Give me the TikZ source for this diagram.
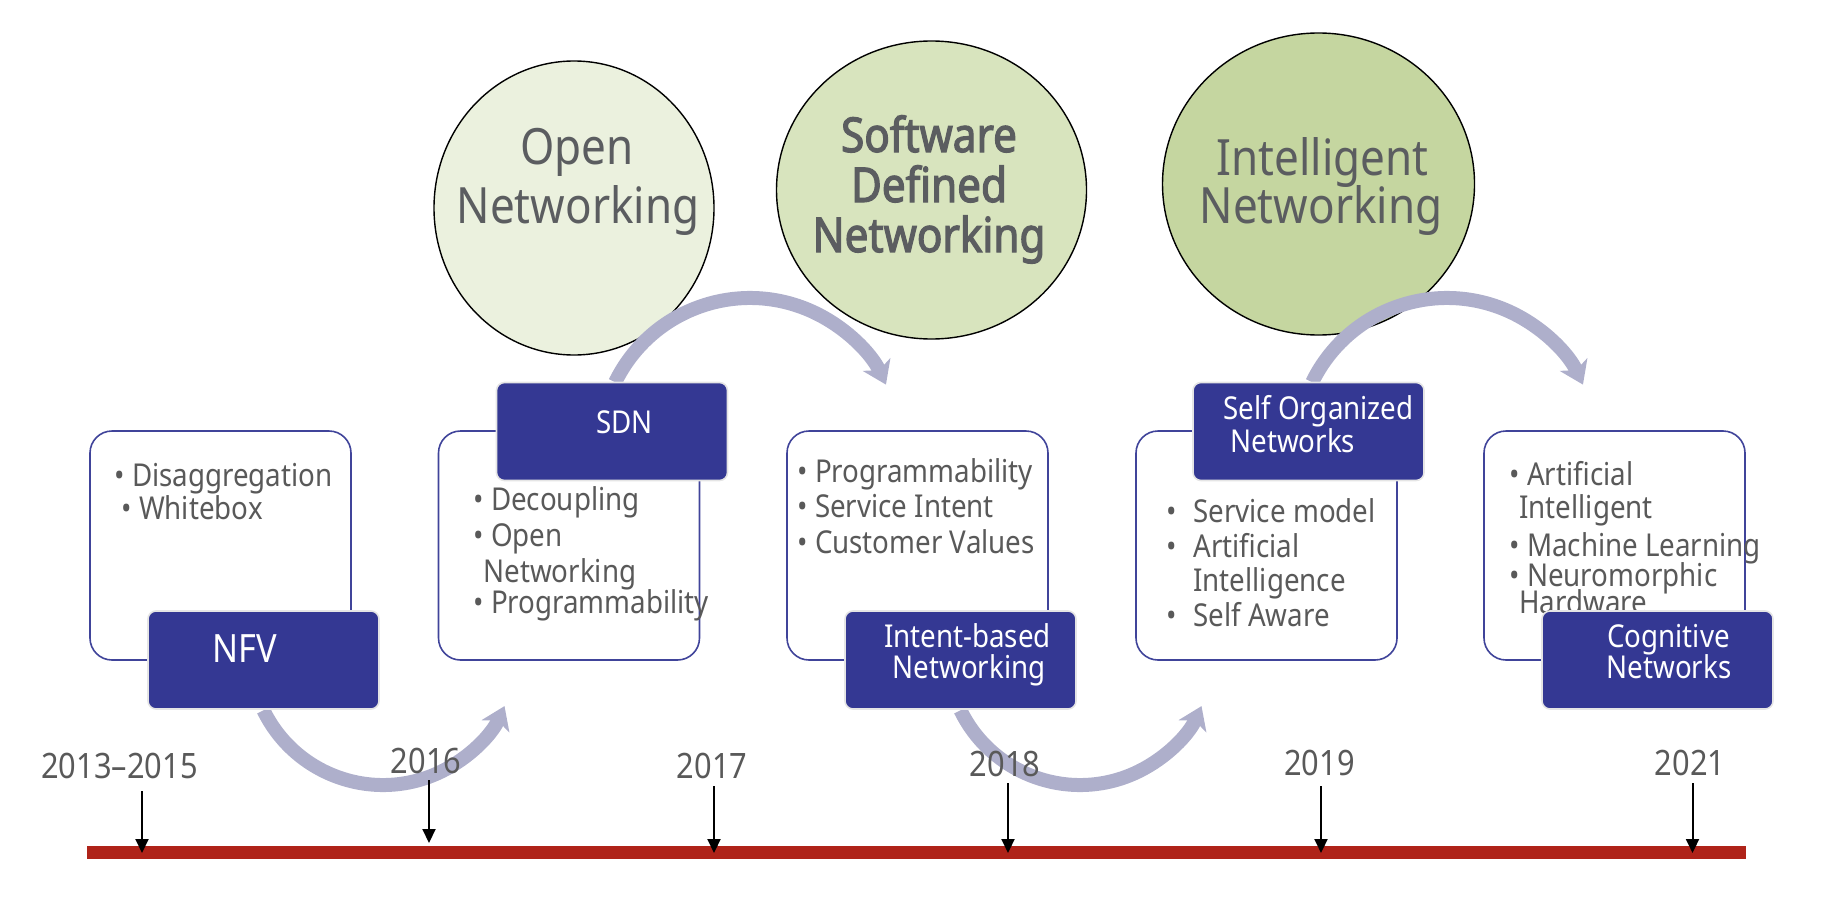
\documentclass[tikz,border=0pt]{standalone}
\usepackage{fontspec}
\setmainfont{Noto Sans}[FakeStretch=0.88, AutoFakeBold=2.5]
\usetikzlibrary{arrows.meta,calc,shapes.geometric}

\definecolor{navy}{RGB}{52,56,147}
\definecolor{boxline}{RGB}{64,68,154}
\definecolor{flowlav}{RGB}{174,175,203}
\definecolor{txtgray}{RGB}{89,89,89}
\definecolor{circtxt}{RGB}{91,93,96}
\definecolor{greenA}{RGB}{235,241,222}
\definecolor{greenB}{RGB}{216,228,190}
\definecolor{greenC}{RGB}{197,214,160}
\definecolor{barred}{RGB}{175,35,25}

\begin{document}
\begin{tikzpicture}[x=0.5pt,y=-0.5pt,
  era/.style={ellipse, draw=black, line width=0.7pt, inner sep=0pt},
  eratext/.style={anchor=base, inner sep=0pt, text=circtxt, font=\fontsize{25pt}{30pt}\selectfont},
  erabold/.style={anchor=base, inner sep=0pt, text=circtxt, font=\fontsize{24pt}{26pt}\selectfont\bfseries},
  wbox/.style={rectangle, rounded corners=11pt, draw=boxline, line width=0.8pt, fill=white,
    minimum width=130.5pt, minimum height=114.5pt, inner sep=0pt},
  dbox/.style={rectangle, rounded corners=4pt, fill=navy, draw=black!10, line width=0.8pt,
    minimum width=115.5pt, minimum height=49pt, inner sep=0pt},
  item/.style={anchor=base west, inner sep=0pt, text=txtgray, font=\fontsize{15.75pt}{18pt}\selectfont},
  boxlabel/.style={anchor=base, inner sep=0pt, text=white, font=\fontsize{15.75pt}{18pt}\selectfont},
  year/.style={anchor=base, inner sep=0pt, text=txtgray, font=\fontsize{17.5pt}{20pt}\selectfont},
  flow/.style={draw=flowlav, line width=7pt, -{Stealth[length=11pt,width=15pt,inset=3pt]}},
  tick/.style={draw=black, line width=1pt, -{Triangle[length=7pt,width=6.5pt]}}
]
\useasboundingbox (0,0) rectangle (1834,920);

% ---- eras ----
\node[era, fill=greenA, minimum width=140pt, minimum height=147pt] (open) at (574,208) {};
\node[era, fill=greenB, minimum width=155pt, minimum height=149pt] (sdnera) at (931.5,190) {};
\node[era, fill=greenC, minimum width=156pt, minimum height=151pt] (intel) at (1318.5,184) {};

\node[eratext] (open1) at (577,164) {Open};
\node[eratext] (open2) at (578,223) {Networking};
\node[erabold] (sdn1) at (929,152) {Software};
\node[erabold] (sdn2) at (929,202) {Defined};
\node[erabold] (sdn3) at (929,252) {Networking};
\node[eratext] (intel1) at (1322.5,175) {Intelligent};
\node[eratext] (intel2) at (1321,223) {Networking};

% ---- curved transitions ----
\coordinate (cA) at (383,652);
\coordinate (cB) at (750,448);
\coordinate (cC) at (1080,652);
\coordinate (cD) at (1447,448);
\draw[flow] ($(cA)+(154:133)$) arc[start angle=154, end angle=24, radius=133];
\draw[flow] ($(cB)+(-154:150)$) arc[start angle=-154, end angle=-25, radius=150];
\draw[flow] ($(cC)+(154:133)$) arc[start angle=154, end angle=24, radius=133];
\draw[flow] ($(cD)+(-154:150)$) arc[start angle=-154, end angle=-25, radius=150];

% ---- content boxes ----
\node[wbox] (b1) at (220.5,545.5) {};
\node[wbox] (b2) at (569,545.5) {};
\node[wbox] (b3) at (917.5,545.5) {};
\node[wbox] (b4) at (1266.5,545.5) {};
\node[wbox] (b5) at (1614.5,545.5) {};

\node[item] (i11) at (114,486) {• Disaggregation};
\node[item] (i12) at (121,519) {• Whitebox};

\node[item] (i21) at (473,510) {• Decoupling};
\node[item] (i22) at (473,546) {• Open};
\node[item] (i23) at (483,582) {Networking};
\node[item] (i24) at (473,613) {• Programmability};

\node[item] (i31) at (797,482) {• Programmability};
\node[item] (i32) at (797,517) {• Service Intent};
\node[item] (i33) at (797,553) {• Customer Values};

\node[item] (i41) at (1166,522) {•\hspace{8.3pt}Service model};
\node[item] (i42) at (1166,557) {•\hspace{8.3pt}Artificial};
\node[item] (i43) at (1193,591) {Intelligence};
\node[item] (i44) at (1166,626) {•\hspace{8.3pt}Self Aware};

\node[item] (i51) at (1509,485) {• Artificial};
\node[item] (i52) at (1519,518) {Intelligent};
\node[item] (i53) at (1509,556) {• Machine Learning};
\node[item] (i54) at (1509,586) {• Neuromorphic};
\node[item] (i55) at (1519,613) {Hardware};

% ---- technology tags ----
\node[dbox] (nfv) at (263.5,660) {};
\node[dbox] (sdn) at (612,431.5) {};
\node[dbox] (ibn) at (960.5,660) {};
\node[dbox] (son) at (1308.5,431.5) {};
\node[dbox] (cog) at (1657.5,660) {};

\node[boxlabel, font=\fontsize{19.5pt}{22pt}\selectfont] (nfvt) at (245,662) {NFV};
\node[boxlabel] (sdnt) at (624.5,433) {SDN};
\node[boxlabel] (ibnt1) at (967.5,647) {Intent-based};
\node[boxlabel] (ibnt2) at (969,678) {Networking};
\node[boxlabel, anchor=base west] (sont1) at (1223,419) {Self Organized};
\node[boxlabel, anchor=base west] (sont2) at (1230,452) {Networks};
\node[boxlabel] (cogt1) at (1668.5,647) {Cognitive};
\node[boxlabel] (cogt2) at (1669,678) {Networks};

% ---- timeline ----
\node[year] (y1) at (119.5,778) {2013–2015};
\node[year] (y2) at (426,773) {2016};
\node[year] (y3) at (712,778) {2017};
\node[year] (y4) at (1005,776) {2018};
\node[year] (y5) at (1319.5,775) {2019};
\node[year] (y6) at (1690,775) {2021};

\fill[barred] (86.5,846) rectangle (1746,859);

\coordinate (a1) at (142,791);    \coordinate (t1) at (142,853);
\coordinate (a2) at (429,780);    \coordinate (t2) at (429,843);
\coordinate (a3) at (714,786);    \coordinate (t3) at (714,853);
\coordinate (a4) at (1008,783);   \coordinate (t4) at (1008,853);
\coordinate (a5) at (1321,786);   \coordinate (t5) at (1321,853);
\coordinate (a6) at (1692.5,783); \coordinate (t6) at (1692.5,853);
\foreach \k in {1,...,6} \draw[tick] (a\k) -- (t\k);
\end{tikzpicture}
\end{document}
